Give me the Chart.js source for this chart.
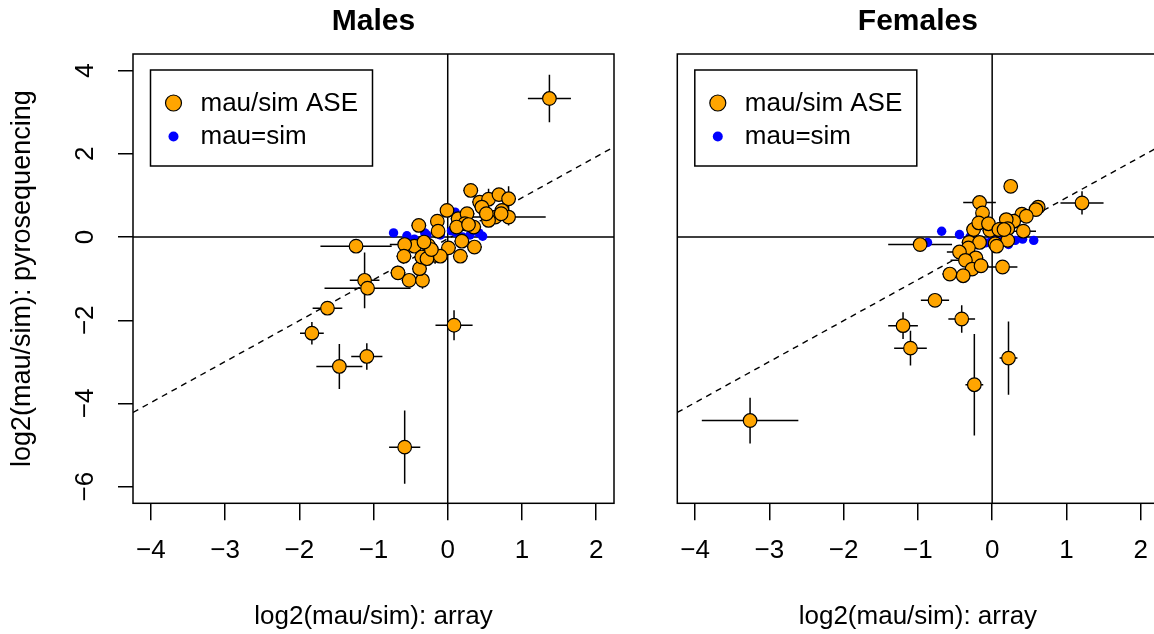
<!DOCTYPE html>
<html>
<head>
<meta charset="utf-8">
<script src="https://cdn.jsdelivr.net/npm/chart.js@4"></script>
<style>
  html, body { margin: 0; padding: 0; background: #fff; overflow: hidden; width: 1154px; height: 634px; }
  canvas { position: absolute; top: 0; }
  #males { left: 0; }
  #females { left: 640px; }
</style>
</head>
<body>
<canvas id="males" width="640" height="634"></canvas>
<canvas id="females" width="540" height="634"></canvas>
<script>
// Axis setup (R style: data range padded 4%)
const xMin = -4.24, xMax = 2.24;
const yMin = -6.4, yMax = 4.4;
const xTicks = [-4, -3, -2, -1, 0, 1, 2];
const yTicks = [-6, -4, -2, 0, 2, 4];

// Dashed reference line: y = intercept + slope * x
const lineSlope = 0.985;
const lineIntercept = -0.04;

// Males: mau/sim ASE genes (orange) with error bars
const maleX = [1.37, -1.235, -1.12, -1.08, -1.62, -1.83, -1.46, -1.09, -0.58, 0.085,
  -0.67, -0.52, -0.34, -0.38, -0.39, -0.01, -0.14, -0.13, 0.31, 0.43,
  0.55, 0.69, 0.82, 0.73, 0.82, 0.64, 0.55, 0.46, 0.14, 0.26,
  0.23, 0.35, 0.12, 0.19, 0.36, 0.17, 0.01, -0.17, -0.26, -0.45,
  -0.58, -0.59, -0.35, -0.28, -0.1, -0.22, -0.32, 0.52, 0.72, 0.28];
const maleY = [3.33, -0.22, -1.04, -1.23, -1.71, -2.31, -3.11, -2.87, -5.05, -2.12,
  -0.86, -1.04, -1.04, -0.76, 0.28, 0.64, 0.38, 0.14, 1.12, 0.84,
  0.91, 1.02, 0.92, 0.64, 0.48, 0.48, 0.4, 0.72, 0.44, 0.56,
  0.32, 0.24, 0.24, -0.1, -0.24, -0.46, -0.26, -0.44, -0.2, -0.22,
  -0.18, -0.46, -0.48, -0.52, -0.46, -0.3, -0.12, 0.56, 0.56, 0.3];
const maleXErr = [0.29, 0.48, 0.2, 0.58, 0.2, 0.16, 0.31, 0.21, 0.21, 0.25,
  0.1, 0.1, 0.08, 0.1, 0.1, 0.08, 0.08, 0.08, 0.1, 0.1,
  0.1, 0.1, 0.1, 0.1, 0.5, 0.1, 0.1, 0.1, 0.1, 0.1,
  0.1, 0.1, 0.1, 0.1, 0.1, 0.1, 0.1, 0.1, 0.1, 0.1,
  0.2, 0.1, 0.1, 0.1, 0.1, 0.1, 0.1, 0.1, 0.1, 0.1];
const maleYErr = [0.57, 0.08, 0.67, 0.1, 0.1, 0.27, 0.54, 0.32, 0.88, 0.36,
  0.1, 0.12, 0.2, 0.15, 0.1, 0.15, 0.12, 0.1, 0.1, 0.15,
  0.25, 0.12, 0.3, 0.1, 0.2, 0.1, 0.1, 0.1, 0.1, 0.1,
  0.1, 0.1, 0.1, 0.1, 0.1, 0.12, 0.1, 0.2, 0.1, 0.1,
  0.1, 0.1, 0.1, 0.15, 0.1, 0.1, 0.1, 0.1, 0.1, 0.1];
// Males: mau=sim genes (blue)
const maleEqX = [-0.73, -0.31, 0.1, 0.47, -0.28, 0.05, 0.3, 0.38, -0.45, -0.1, 0.2, 0.12, -0.55, 0.42];
const maleEqY = [0.1, 0.1, 0.6, 0.02, 0.05, 0.15, 0.05, 0.16, -0.05, 0.05, 0.0, 0.1, 0.03, 0.1];

// Females: mau/sim ASE genes (orange) with error bars
const femaleX = [-3.26, -0.97, -0.77, -1.2, -1.1, -0.41, -0.24, 0.22, 1.21, 0.25,
  -0.17, -0.13, 0.62, 0.59, 0.4, 0.46, 0.29, 0.19, 0.21, 0.11,
  -0.03, 0.42, -0.25, -0.18, -0.05, -0.31, -0.17, 0.04, 0.21, -0.32,
  -0.44, -0.22, -0.36, -0.27, -0.15, -0.57, -0.39, 0.14, 0.06, 0.09, 0.16];
const femaleY = [-4.41, -0.18, -1.52, -2.13, -2.67, -1.97, -3.55, -2.91, 0.82, 1.22,
  0.83, 0.58, 0.72, 0.66, 0.55, 0.5, 0.38, 0.42, 0.2, 0.19,
  0.16, 0.14, 0.18, 0.34, 0.32, -0.13, -0.13, -0.16, -0.08, -0.26,
  -0.36, -0.5, -0.56, -0.77, -0.69, -0.89, -0.93, -0.72, -0.22, 0.18, 0.18];
const femaleXErr = [0.65, 0.43, 0.19, 0.2, 0.22, 0.18, 0.12, 0.12, 0.29, 0.05,
  0.22, 0.08, 0.08, 0.08, 0.1, 0.08, 0.1, 0.08, 0.1, 0.1,
  0.1, 0.17, 0.1, 0.1, 0.08, 0.1, 0.1, 0.1, 0.1, 0.12,
  0.17, 0.1, 0.2, 0.1, 0.1, 0.1, 0.1, 0.2, 0.1, 0.08, 0.08];
const femaleYErr = [0.55, 0.06, 0.1, 0.32, 0.42, 0.33, 1.22, 0.88, 0.28, 0.05,
  0.08, 0.1, 0.08, 0.08, 0.1, 0.08, 0.1, 0.08, 0.1, 0.08,
  0.08, 0.08, 0.1, 0.1, 0.08, 0.1, 0.1, 0.1, 0.1, 0.1,
  0.1, 0.1, 0.1, 0.1, 0.1, 0.1, 0.12, 0.08, 0.1, 0.08, 0.08];
// Females: mau=sim genes (blue)
const femaleEqX = [-0.68, -0.87, -0.44, -0.09, 0.22, 0.41, 0.56, 0.31, -0.3, 0.0, 0.12];
const femaleEqY = [0.14, -0.13, 0.06, -0.14, -0.18, -0.05, -0.08, -0.08, 0.0, -0.05, -0.1];

const legendLabels = ["mau/sim ASE", "mau=sim"];
const FONT = "'Liberation Sans', Arial, Helvetica, sans-serif";
const ORANGE = "#FFA500";
const BLUE = "#0000FF";
const LINE_W = 1.5;

Chart.defaults.font.family = FONT;
Chart.defaults.color = "#000";

const minusSign = v => String(v).replace("-", "\u2212");

// Zero lines, error bars, box, legend and rotated y labels
const panelDecor = {
  id: "panelDecor",
  beforeDatasetsDraw(chart) {
    const { ctx, chartArea: a, scales: { x, y } } = chart;
    ctx.save();
    ctx.strokeStyle = "#000";
    ctx.lineWidth = LINE_W;
    const x0 = x.getPixelForValue(0);
    const y0 = y.getPixelForValue(0);
    ctx.beginPath();
    ctx.moveTo(x0, a.top); ctx.lineTo(x0, a.bottom);
    ctx.moveTo(a.left, y0); ctx.lineTo(a.right, y0);
    ctx.stroke();

    // error bars of the ASE dataset
    const ds = chart.data.datasets[0];
    ctx.beginPath();
    ds.data.forEach((p, i) => {
      const px = x.getPixelForValue(p.x);
      const py = y.getPixelForValue(p.y);
      ctx.moveTo(x.getPixelForValue(p.x - ds.errX[i]), py);
      ctx.lineTo(x.getPixelForValue(p.x + ds.errX[i]), py);
      ctx.moveTo(px, y.getPixelForValue(p.y - ds.errY[i]));
      ctx.lineTo(px, y.getPixelForValue(p.y + ds.errY[i]));
    });
    ctx.stroke();
    ctx.restore();
  },
  afterDatasetsDraw(chart) {
    const { ctx, chartArea: a } = chart;
    ctx.save();
    ctx.strokeStyle = "#000";
    ctx.lineWidth = LINE_W;
    ctx.strokeRect(a.left, a.top, a.right - a.left, a.bottom - a.top);

    // legend box
    const lx = a.left + 17.5, ly = a.top + 16, lw = 222, lh = 96;
    ctx.fillStyle = "#fff";
    ctx.fillRect(lx, ly, lw, lh);
    ctx.strokeRect(lx, ly, lw, lh);
    ctx.beginPath();
    ctx.arc(lx + 23, ly + 33, 8, 0, Math.PI * 2);
    ctx.fillStyle = ORANGE;
    ctx.fill();
    ctx.lineWidth = 1.2;
    ctx.stroke();
    ctx.beginPath();
    ctx.arc(lx + 23, ly + 66.5, 5, 0, Math.PI * 2);
    ctx.fillStyle = BLUE;
    ctx.fill();
    ctx.fillStyle = "#000";
    ctx.font = "26px " + FONT;
    ctx.textAlign = "left";
    ctx.textBaseline = "middle";
    ctx.fillText(legendLabels[0], lx + 50, ly + 34);
    ctx.fillText(legendLabels[1], lx + 50, ly + 67);
    ctx.restore();
  },
  afterDraw(chart, args, opts) {
    if (!opts.yLabels) return;
    const { ctx, scales: { y } } = chart;
    ctx.save();
    ctx.fillStyle = "#000";
    ctx.font = "26px " + FONT;
    ctx.textAlign = "center";
    ctx.textBaseline = "middle";
    yTicks.forEach(v => {
      ctx.save();
      ctx.translate(86, y.getPixelForValue(v));
      ctx.rotate(-Math.PI / 2);
      ctx.fillText(minusSign(v), 0, 0);
      ctx.restore();
    });
    ctx.restore();
  }
};

function makePanel(canvasId, title, xs, ys, xErr, yErr, eqX, eqY, showY, padLeft, padRight) {
  const ase = xs.map((v, i) => ({ x: v, y: ys[i] }));
  const same = eqX.map((v, i) => ({ x: v, y: eqY[i] }));
  const fit = [xMin, xMax].map(v => ({ x: v, y: lineIntercept + lineSlope * v }));

  return new Chart(document.getElementById(canvasId), {
    type: "scatter",
    data: {
      datasets: [
        {
          label: legendLabels[0], data: ase, errX: xErr, errY: yErr, order: 0,
          pointRadius: 6.8, pointBorderWidth: 1.2, pointBackgroundColor: ORANGE, pointBorderColor: "#000"
        },
        {
          label: legendLabels[1], data: same, order: 1,
          pointRadius: 4.7, pointBorderWidth: 0, pointBackgroundColor: BLUE, pointBorderColor: BLUE
        },
        {
          type: "line", label: "fit", data: fit, order: 2,
          borderColor: "#000", borderWidth: 1.4, borderDash: [6, 5], pointRadius: 0, fill: false
        }
      ]
    },
    options: {
      responsive: false,
      animation: false,
      events: [],
      layout: { padding: { left: padLeft, right: padRight, top: 0, bottom: 0 } },
      plugins: {
        legend: { display: false },
        tooltip: { enabled: false },
        title: {
          display: true, text: title, fullSize: false, color: "#000",
          font: { size: 30, weight: "bold", family: FONT, lineHeight: 1.2 },
          padding: { top: 4, bottom: 14 }
        },
        panelDecor: { yLabels: showY }
      },
      scales: {
        x: {
          type: "linear", min: xMin, max: xMax,
          afterBuildTicks: s => { s.ticks = xTicks.map(v => ({ value: v })); },
          afterFit: s => { s.height = 130.7; },
          ticks: { font: { size: 26 }, color: "#000", padding: 15, callback: minusSign },
          grid: { drawOnChartArea: false, drawTicks: true, tickLength: 17, color: "#000", lineWidth: LINE_W },
          border: { display: false },
          title: {
            display: true, text: "log2(mau/sim): array", color: "#000",
            font: { size: 26, lineHeight: 1.2 }, padding: { top: 0, bottom: 2 }
          }
        },
        y: {
          type: "linear", min: yMin, max: yMax, display: showY,
          afterBuildTicks: s => { s.ticks = yTicks.map(v => ({ value: v })); },
          afterFit: s => { s.width = showY ? 133 : 0; },
          ticks: { display: false },
          grid: { drawOnChartArea: false, drawTicks: true, tickLength: 15, color: "#000", lineWidth: LINE_W },
          border: { display: false },
          title: {
            display: true, text: "log2(mau/sim): pyrosequencing", color: "#000",
            font: { size: 27, lineHeight: 1.2 }, padding: { top: 6, bottom: 0 }
          }
        }
      }
    },
    plugins: [panelDecor]
  });
}

document.addEventListener("DOMContentLoaded", () => {
  makePanel("males", "Males", maleX, maleY, maleXErr, maleYErr, maleEqX, maleEqY, true, 0, 26);
  makePanel("females", "Females", femaleX, femaleY, femaleXErr, femaleYErr, femaleEqX, femaleEqY, false, 37.3, 21.5);
});
</script>
</body>
</html>
